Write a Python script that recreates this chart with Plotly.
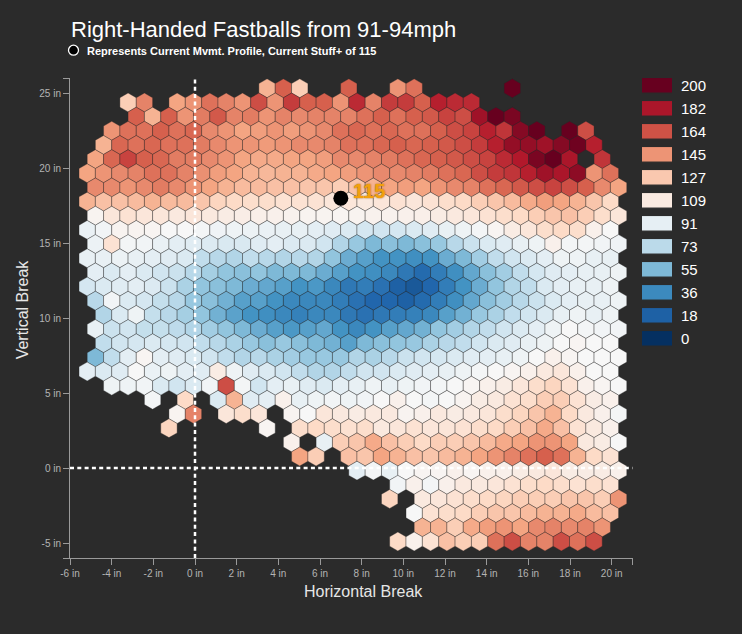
import plotly.graph_objects as go

# ---------------- data ----------------
TITLE = "Right-Handed Fastballs from 91-94mph"
SUBTITLE = "Represents Current Mvmt. Profile, Current Stuff+ of 115"
X_TICKS = [-6, -4, -2, 0, 2, 4, 6, 8, 10, 12, 14, 16, 18, 20]
Y_TICKS = [-5, 0, 5, 10, 15, 20, 25]
LEGEND_VALUES = [0, 18, 36, 55, 73, 91, 109, 127, 145, 164, 182, 200]
CURRENT_X, CURRENT_Y, CURRENT_STUFF = 7.0, 18.0, 115

# Stuff+ of each hex bin, one list per bin row (top to bottom); None = empty bin
ROW_START = [12, 3, 4, 2, 2, 1, 1, 1, 1, 1, 1, 1, 1, 1, 1, 1, 2, 1, 2, 1, 1, 2,
             5, 6, 6, 13, 14, 17, 20, 19, 21, 21, 20]
N = None
R00 = [135, 160, 125, N, N, 160, N, N, 145, 155, N, N, N, N, N, 200]
R01 = [125, 150, N, 140, 145, 155, 150, 145, 165, 145, 170, 160, 160, 145, 175, 150, 170, 170, 160, 178, 175, 175]
R02 = [160, 135, 160, 145, 152, 162, 150, 152, 145, 150, 148, 150, 150, 150, 155, 160, 155, 160, 162, 168, 165, 185, 200, 195]
R03 = [145, 155, 155, 160, 155, 158, 148, 145, 140, 142, 145, 142, 145, 148, 155, 158, 155, 158, 155, 155, 160, 165, 168, 178, 172, 192, 200, N, 200, 165]
R04 = [135, 158, 155, 158, 155, 155, 152, 148, 145, 145, 143, 145, 148, 148, 150, 155, 155, 158, 160, 158, 160, 162, 165, 170, 178, 188, 188, 185, 192, 198, 178]
R05 = [140, 158, 168, 160, 158, 152, 152, 148, 145, 140, 138, 138, 140, 140, 142, 148, 148, 150, 152, 155, 158, 160, 162, 165, 168, 175, 180, 195, 200, 182, N, 172]
R06 = [140, 145, 148, 150, 155, 155, 150, 146, 142, 140, 135, 133, 135, 135, 138, 140, 142, 145, 148, 148, 150, 152, 155, 158, 165, 170, 172, 178, 185, 182, 190, 145, 155]
R07 = [148, 148, 145, 148, 152, 148, 145, 140, 135, 132, 132, 130, 130, 128, 128, 125, 128, 135, 140, 142, 140, 145, 148, 150, 155, 158, 162, 165, 168, 165, 160, 148, 140]
R08 = [135, 130, 130, 132, 135, 132, 132, 128, 122, 120, 118, 118, 115, 115, 115, 112, 112, 110, 112, 115, 112, 115, 118, 120, 125, 128, 132, 138, 142, 140, 135, 128, 120]
R09 = [103, 112, 115, 112, 112, 110, 112, 110, 108, 107, 106, 105, 104, 103, 103, 102, 103, 104, 104, 105, 106, 108, 110, 112, 115, 118, 120, 125, 128, 130, 125, 118, 112]
R10 = [93, 97, 103, 103, 102, 100, 100, 98, 96, 95, 94, 93, 92, 92, 90, 88, 85, 82, 80, 82, 85, 88, 92, 95, 98, 102, 108, 112, 118, 120, 118, 105, 100]
R11 = [94, 115, 98, 97, 93, 90, 88, 86, 84, 84, 88, 90, 86, 86, 80, 70, 62, 55, 58, 55, 58, 62, 72, 78, 85, 88, 92, 95, 105, 98, 98, 97, 96]
R12 = [92, 92, 94, 92, 90, 88, 85, 75, 72, 70, 75, 72, 70, 72, 70, 60, 50, 45, 40, 40, 38, 40, 50, 55, 65, 75, 80, 85, 90, 95, 95, 92, 92]
R13 = [90, 85, 90, 85, 80, 78, 72, 66, 60, 58, 60, 55, 55, 55, 50, 45, 40, 38, 35, 28, 22, 30, 38, 48, 58, 65, 75, 82, 88, 90, 92, 92, 95]
R14 = [82, 85, 88, 90, 86, 78, 68, 60, 58, 55, 50, 48, 45, 40, 42, 35, 28, 30, 25, 18, 15, 20, 30, 40, 50, 60, 70, 75, 85, 90, 92, 92, 95]
R15 = [72, 97, 85, 82, 76, 72, 62, 58, 52, 45, 45, 40, 35, 35, 35, 30, 25, 20, 20, 18, 22, 30, 38, 48, 58, 65, 72, 78, 85, 90, 92, 92, 95]
R16 = [70, 85, 95, 76, 72, 66, 60, 52, 46, 40, 38, 35, 32, 35, 35, 28, 25, 28, 30, 32, 35, 45, 52, 62, 68, 75, 80, 85, 92, 95, 92, 95]
R17 = [92, 78, 80, 76, 76, 74, 70, 65, 60, 55, 50, 45, 42, 45, 48, 40, 35, 40, 45, 48, 52, 60, 65, 70, 75, 80, 85, 90, 95, 100, 98, 97, 97]
R18 = [75, 80, 82, 85, 82, 80, 75, 72, 68, 62, 58, 62, 58, 55, 52, 45, 55, 58, 60, 62, 68, 72, 75, 80, 85, 88, 92, 95, 100, 102, 100, 100]
R19 = [55, 75, 90, 102, 90, 88, 85, 80, 75, 70, 72, 68, 65, 62, 62, 62, 70, 68, 72, 78, 80, 82, 85, 88, 90, 92, 95, 100, 105, 102, 100, 100, 100]
R20 = [90, 85, 88, 100, 93, 95, 90, 88, 108, 95, 88, 85, 80, 75, 70, 70, 75, 80, 80, 85, 88, 90, 92, 95, 98, 100, 102, 105, 110, 112, 105, 100, 100]
R21 = [95, 95, 97, 85, 80, 85, 97, 165, 98, 80, 90, 92, 88, 85, 90, 92, 95, 92, 95, 97, 98, 100, 102, 105, 108, 112, 118, 122, 115, 105, 102, 100]
R22 = [98, N, 120, N, 85, 135, 88, 90, 105, 92, 95, 97, 95, 97, 100, 105, 100, 98, 100, 103, 108, 110, 115, 118, 125, 125, 115, 108, 105]
R23 = [103, 150, N, 112, 118, 112, N, 103, 100, 112, 110, 108, 110, 110, 103, 105, 110, 108, 110, 112, 118, 122, 128, 135, 120, 110, 105, 98]
R24 = [122, N, N, N, N, N, 102, N, 118, 120, 118, 116, 118, 110, 112, 115, 112, 113, 115, 118, 120, 125, 130, 138, 130, 115, 110, 105]
R25 = [105, N, 92, 125, 128, 138, 130, 125, 120, 125, 125, 128, 132, 138, 140, 145, 145, 140, 110, 108, 100]
R26 = [140, 125, N, 130, 128, 140, 135, 130, 128, 132, 135, 140, 145, 150, 155, 160, 155, 135, 120, 115]
R27 = [90, 98, 92, 100, 102, 102, 105, 102, 105, 105, 108, 110, 112, 108, 108, 108, 105]
R28 = [97, 105, 98, 105, 110, 110, 112, 115, 118, 120, 118, 115, 118, 115]
R29 = [122, N, 110, 112, 115, 118, 120, 122, 125, 125, 125, 128, 128, 125, 145]
R30 = [100, 115, 118, 120, 125, 128, 128, 132, 135, 135, 138, 132, 130]
R31 = [135, 135, 125, 138, 142, 145, 140, 148, 150, 148, 150, 145]
R32 = [120, 105, 115, 130, 125, 125, 155, 165, 150, 150, 165, 155, 165]
ROWS = [R00, R01, R02, R03, R04, R05, R06, R07, R08, R09, R10, R11, R12, R13, R14, R15, R16,
        R17, R18, R19, R20, R21, R22, R23, R24, R25, R26, R27, R28, R29, R30, R31, R32]

# ---------------- hexbin geometry (inches) ----------------
HEX_X0 = -5.959     # centre of column 0 on even rows
HEX_W = 0.7848      # column spacing
HEX_Y0 = 25.333     # centre of the top row
HEX_H = 0.9447      # row spacing

xs, ys, vs = [], [], []
for r, (start, vals) in enumerate(zip(ROW_START, ROWS)):
    for i, v in enumerate(vals):
        if v is None:
            continue
        c = start + i
        xs.append(HEX_X0 + HEX_W * (c + 0.5 * (r % 2)))
        ys.append(HEX_Y0 - HEX_H * r)
        vs.append(v)

RDBU = ["#053061", "#2166ac", "#4393c3", "#92c5de", "#d1e5f0", "#f7f7f7",
        "#fddbc7", "#f4a582", "#d6604d", "#b2182b", "#67001f"]
CSCALE = [[i / 10, c] for i, c in enumerate(RDBU)]

BG = "#2b2b2b"
FONT = "Liberation Sans, Arial, sans-serif"
W, H = 742, 634
ML, MT, MB = 70, 70, 75.7
PW, PH = W - ML, H - MT - MB

fig = go.Figure()
fig.add_trace(go.Scatter(
    x=xs, y=ys, mode="markers", hoverinfo="skip",
    marker=dict(symbol="hexagon", size=18.9, color=vs, colorscale=CSCALE,
                cmin=0, cmax=200, line=dict(color="rgba(40,40,40,0.35)", width=1)),
    showlegend=False))
fig.add_trace(go.Scatter(
    x=[CURRENT_X], y=[CURRENT_Y], mode="markers", hoverinfo="skip",
    marker=dict(size=15, color="black", line=dict(width=0)), showlegend=False))

# colour legend as a small heatmap
fig.add_trace(go.Heatmap(
    z=[[v] for v in LEGEND_VALUES], x=[0], y=list(range(len(LEGEND_VALUES))),
    xaxis="x2", yaxis="y2", colorscale=CSCALE, zmin=0, zmax=200,
    showscale=False, ygap=8.5, hoverinfo="skip"))

axis_common = dict(showgrid=False, zeroline=False, showline=True, linecolor="#9a9a9a",
                   linewidth=1, ticks="outside", ticklen=6, tickcolor="#9a9a9a",
                   tickfont=dict(size=10, color="#b4b4b4", family=FONT), fixedrange=True)

fig.update_layout(
    width=W, height=H, paper_bgcolor=BG, plot_bgcolor=BG,
    margin=dict(l=ML, r=0, t=MT, b=MB, pad=0),
    font=dict(family=FONT, color="white"),
    xaxis=dict(domain=[0, 562.5 / PW], range=[-6, 21],
               tickvals=X_TICKS + [21], ticktext=[f"{v} in" for v in X_TICKS] + [""],
               **axis_common),
    yaxis=dict(domain=[0, 480 / PH], range=[-6, 26],
               tickvals=[-6] + Y_TICKS + [26], ticktext=[""] + [f"{v} in" for v in Y_TICKS] + [""],
               **axis_common),
    xaxis2=dict(domain=[572 / PW, 602 / PW], anchor="y2", visible=False, range=[-0.5, 0.5],
                fixedrange=True),
    yaxis2=dict(domain=[(558.3 - 349.95) / PH, (558.3 - 74.05) / PH], anchor="x2", side="right",
                range=[-0.5, len(LEGEND_VALUES) - 0.5],
                tickvals=list(range(len(LEGEND_VALUES))), ticktext=[str(v) for v in LEGEND_VALUES],
                ticks="", showline=False, showgrid=False, zeroline=False, ticklabelstandoff=8,
                tickfont=dict(size=15, color="white", family=FONT), fixedrange=True),
    shapes=[
        dict(type="line", xref="x", yref="y domain", x0=0, x1=0, y0=0, y1=1, layer="above",
             line=dict(color="white", width=2.5, dash="4px,3.3px")),
        dict(type="line", xref="x domain", yref="y", x0=0, x1=1, y0=0, y1=0, layer="above",
             line=dict(color="white", width=2.5, dash="4px,3.3px")),
        dict(type="circle", xref="paper", yref="paper",
             x0=(68.5 - ML) / PW, x1=(78.5 - ML) / PW,
             y0=(558.3 - 55.2) / PH, y1=(558.3 - 45.2) / PH,
             fillcolor="black", line=dict(color="white", width=1.3)),
    ],
    annotations=[
        dict(text=TITLE, xref="paper", yref="paper", x=-1.5 / PW, y=(558.3 - 29) / PH,
             xanchor="left", yanchor="middle", showarrow=False,
             font=dict(size=22, color="white", family=FONT)),
        dict(text=f"<b>{SUBTITLE}</b>", xref="paper", yref="paper", x=(84.5 - ML) / PW,
             y=(558.3 - 50.5) / PH, xanchor="left", yanchor="middle", showarrow=False,
             font=dict(size=11, color="white", family=FONT)),
        dict(text=f"<b>{CURRENT_STUFF}</b>", xref="x", yref="y", x=CURRENT_X, y=CURRENT_Y,
             xanchor="left", yanchor="middle", xshift=10, yshift=7, showarrow=False,
             font=dict(size=20, color="#f2a00c", family=FONT,
                       shadow="0px 0px 2px #9a5a00")),
        dict(text="Horizontal Break", xref="paper", yref="paper", x=(363.5 - ML) / PW,
             y=(558.3 - 592) / PH, xanchor="center", yanchor="middle", showarrow=False,
             font=dict(size=16, color="#e6e6e6", family=FONT)),
        dict(text="Vertical Break", xref="paper", yref="paper", x=(22 - ML) / PW,
             y=(558.3 - 309.5) / PH, xanchor="center", yanchor="middle", textangle=-90,
             showarrow=False, font=dict(size=16, color="#e6e6e6", family=FONT)),
    ],
)

fig.write_html("out.html")
